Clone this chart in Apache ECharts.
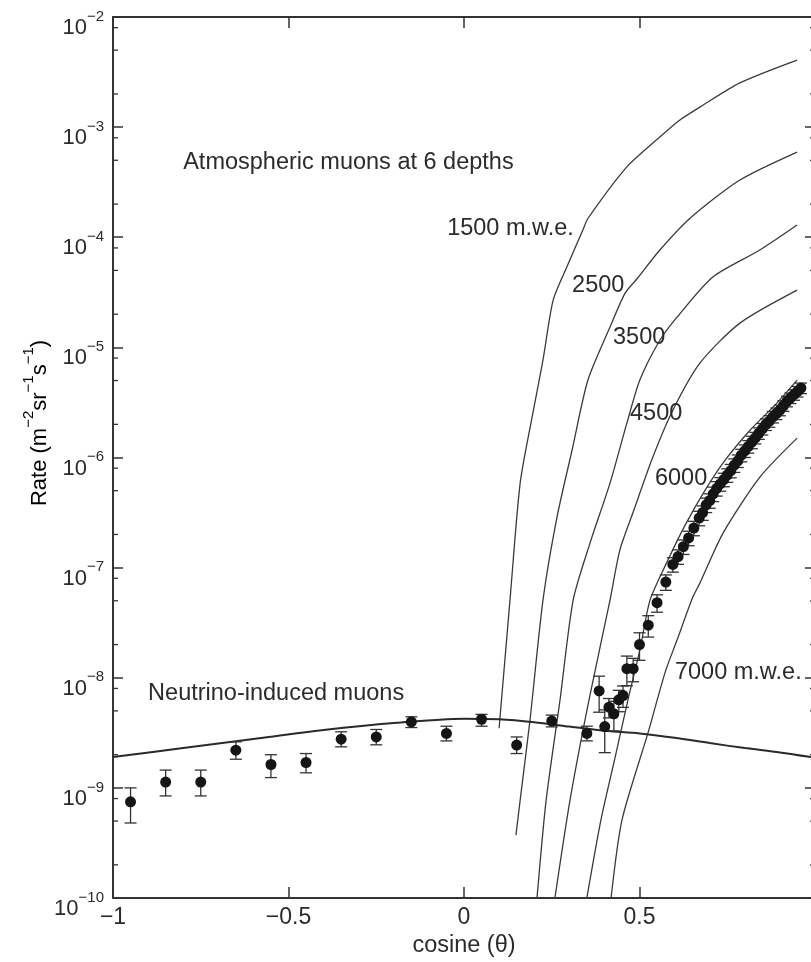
<!DOCTYPE html>
<html><head><meta charset="utf-8">
<script src="https://cdn.jsdelivr.net/npm/echarts/dist/echarts.min.js"></script>
<style>html,body{margin:0;padding:0;background:#fff}#c{width:811px;height:962px}</style>
</head><body><div id="c"></div>
<script>
// ---------- DATA ----------
const xTickLabels = {'-1':'\u22121','-0.5':'\u22120.5','0':'0','0.5':'0.5','1':''};
const yDecades = [-10,-9,-8,-7,-6,-5,-4,-3,-2];
const minorMantissas = [2,5,8];

// Neutrino-induced muons: model curve
const nuCurveCos  = [-1, -0.8, -0.6, -0.4, -0.2, 0, 0.1, 0.2, 0.3, 0.4, 0.5, 0.6, 0.7, 0.8, 0.9, 1.0];
const nuCurveRate = [1.91e-9, 2.3e-9, 2.78e-9, 3.35e-9, 3.88e-9, 4.25e-9, 4.2e-9, 3.95e-9, 3.6e-9, 3.3e-9, 3.12e-9, 2.85e-9, 2.55e-9, 2.3e-9, 2.1e-9, 1.88e-9];

// Neutrino-induced muons: data points
const nuCos  = [-0.95, -0.85, -0.75, -0.65, -0.55, -0.45, -0.35, -0.25, -0.15, -0.05, 0.05, 0.15, 0.25, 0.35];
const nuRate = [7.47e-10, 1.13e-9, 1.13e-9, 2.2e-9, 1.63e-9, 1.7e-9, 2.77e-9, 2.9e-9, 3.98e-9, 3.12e-9, 4.2e-9, 2.45e-9, 4.04e-9, 3.12e-9];
const nuLo   = [4.8e-10, 8.45e-10, 8.45e-10, 1.82e-9, 1.24e-9, 1.37e-9, 2.36e-9, 2.46e-9, 3.53e-9, 2.67e-9, 3.63e-9, 2.05e-9, 3.58e-9, 2.67e-9];
const nuHi   = [1.0e-9, 1.45e-9, 1.45e-9, 2.62e-9, 2.0e-9, 2.05e-9, 3.23e-9, 3.39e-9, 4.42e-9, 3.63e-9, 4.65e-9, 2.9e-9, 4.58e-9, 3.63e-9];

// Atmospheric muon data
const muCos  = [0.385, 0.401, 0.413, 0.427, 0.441, 0.453, 0.464, 0.482, 0.50, 0.525, 0.55, 0.575, 0.595, 0.61, 0.625, 0.64, 0.655, 0.67, 0.68, 0.69, 0.70, 0.71, 0.72, 0.73, 0.74, 0.75, 0.76, 0.77, 0.78, 0.79, 0.80, 0.81, 0.82, 0.83, 0.84, 0.85, 0.86, 0.87, 0.88, 0.89, 0.90, 0.91, 0.92, 0.93, 0.94, 0.95, 0.96];
const muRate = [7.6e-9, 3.6e-9, 5.4e-9, 4.7e-9, 6.3e-9, 6.9e-9, 1.21e-8, 1.21e-8, 2.0e-8, 3.0e-8, 4.8e-8, 7.4e-8, 1.07e-7, 1.26e-7, 1.55e-7, 1.86e-7, 2.29e-7, 2.82e-7, 3.16e-7, 3.72e-7, 4.07e-7, 4.68e-7, 5.25e-7, 5.75e-7, 6.31e-7, 6.92e-7, 7.59e-7, 8.51e-7, 9.33e-7, 1.05e-6, 1.15e-6, 1.26e-6, 1.38e-6, 1.51e-6, 1.66e-6, 1.82e-6, 2.0e-6, 2.14e-6, 2.34e-6, 2.51e-6, 2.69e-6, 2.95e-6, 3.24e-6, 3.47e-6, 3.72e-6, 3.98e-6, 4.27e-6];
const muErr  = [0.36, 0.42, 0.2, 0.3, 0.22, 0.22, 0.3, 0.24, 0.28, 0.22, 0.18, 0.16, 0.15, 0.15, 0.15, 0.15, 0.15, 0.15, 0.15, 0.15, 0.15, 0.15, 0.15, 0.14, 0.14, 0.14, 0.14, 0.14, 0.13, 0.13, 0.13, 0.13, 0.13, 0.12, 0.12, 0.12, 0.12, 0.12, 0.12, 0.12, 0.11, 0.11, 0.11, 0.11, 0.11, 0.11, 0.11];

// Atmospheric muon depth curves
const d1500Cos  = [0.100, 0.131, 0.160, 0.194, 0.225, 0.254, 0.293, 0.339, 0.353, 0.464, 0.558, 0.615, 0.672, 0.786, 0.949];
const d1500Rate = [3.48e-9, 5.07e-8, 5.85e-7, 2.33e-6, 7.67e-6, 2.69e-5, 5.37e-5, 1.17e-4, 1.48e-4, 4.35e-4, 8.13e-4, 1.16e-3, 1.52e-3, 2.52e-3, 4.06e-3];
const d2500Cos  = [0.148, 0.160, 0.188, 0.225, 0.265, 0.308, 0.353, 0.416, 0.459, 0.493, 0.558, 0.644, 0.786, 0.949];
const d2500Rate = [3.72e-10, 7.73e-10, 4.12e-9, 5.07e-8, 2.88e-7, 1.17e-6, 5.05e-6, 1.53e-5, 3.11e-5, 4.2e-5, 7.66e-5, 1.49e-4, 3.31e-4, 5.94e-4];
const d3500Cos  = [0.208, 0.234, 0.2735, 0.311, 0.359, 0.416, 0.464, 0.501, 0.558, 0.607, 0.709, 0.843, 0.949];
const d3500Rate = [1e-10, 7.73e-10, 6.27e-9, 5.07e-8, 1.67e-7, 5.85e-7, 2.05e-6, 5.05e-6, 1.16e-5, 1.88e-5, 4.36e-5, 7.66e-5, 1.29e-4];
const d4500Cos  = [0.259, 0.302, 0.356, 0.416, 0.444, 0.481, 0.538, 0.595, 0.672, 0.786, 0.949];
const d4500Rate = [1e-10, 7.73e-10, 6.27e-9, 5.07e-8, 1.44e-7, 3.13e-7, 1.01e-6, 2.69e-6, 7.19e-6, 1.66e-5, 3.31e-5];
const d6000Cos  = [0.350, 0.390, 0.430, 0.467, 0.501, 0.530, 0.581, 0.630, 0.687, 0.744, 0.815, 0.886, 0.949];
const d6000Rate = [1e-10, 5.09e-10, 1.86e-9, 6.27e-9, 1.78e-8, 5.07e-8, 1.17e-7, 2.43e-7, 5.06e-7, 9.46e-7, 1.77e-6, 2.99e-6, 5.05e-6];
const d7000Cos  = [0.419, 0.450, 0.524, 0.573, 0.607, 0.652, 0.672, 0.738, 0.843, 0.949];
const d7000Rate = [1e-10, 5.09e-10, 3.14e-9, 1.12e-8, 2.2e-8, 5.4e-8, 7.23e-8, 2.06e-7, 6.64e-7, 1.5e-6];

// Annotations (text, cos, rate)
const annText = ['Atmospheric muons at 6 depths', '1500 m.w.e.', '2500', '3500', '4500', '6000', '7000 m.w.e.', 'Neutrino-induced muons'];
const annCos  = [-0.80, -0.048, 0.308, 0.4245, 0.473, 0.544, 0.601, -0.900];
const annRate = [4.82e-4, 1.19e-4, 3.68e-5, 1.24e-5, 2.53e-6, 6.5e-7, 1.12e-8, 7.24e-9];

// ---------- CHART ----------
const INK = '#2b2b2b';
const FONT = '"Liberation Sans", Arial, Helvetica, sans-serif';
const zip = (a, b) => a.map((v, i) => [v, b[i]]);

const minorTicks = [];
for (let i = 0; i < yDecades.length - 1; i++) minorMantissas.forEach(m => minorTicks.push([-1, m * Math.pow(10, yDecades[i])]));

const errData = nuCos.map((c, i) => [c, nuRate[i], nuLo[i], nuHi[i]])
  .concat(muCos.map((c, i) => [c, muRate[i], muRate[i] * (1 - muErr[i]), muRate[i] * (1 + muErr[i])]));
const ptData = zip(nuCos, nuRate).concat(zip(muCos, muRate));

const curve = (cs, rs) => ({
  type: 'line', data: zip(cs, rs), showSymbol: false, smooth: 0.25, silent: true,
  lineStyle: { color: '#3a3a3a', width: 1.3 }, z: 2
});

const supRich = {
  b: { fontSize: 22, lineHeight: 30, verticalAlign: 'bottom', color: INK, fontFamily: FONT },
  s: { fontSize: 15, lineHeight: 15, verticalAlign: 'top', color: INK, fontFamily: FONT }
};

const yBase = {
  type: 'log', logBase: 10, min: 1e-10, max: 1e-2, splitNumber: 8,
  splitLine: { show: false }, minorTick: { show: false },
  axisLine: { show: true, onZero: false, lineStyle: { color: '#333', width: 2 } },
  axisTick: { show: true, inside: true, length: 10, lineStyle: { color: '#333', width: 1.5 } }
};
const xBase = {
  type: 'value', min: -1, max: 1, interval: 0.5,
  splitLine: { show: false },
  axisLine: { show: true, onZero: false, lineStyle: { color: '#333', width: 2 } },
  axisTick: { show: true, inside: true, length: 11, lineStyle: { color: '#333', width: 1.5 } }
};

const chart = echarts.init(document.getElementById('c'), null, { renderer: 'canvas' });
chart.setOption({
  animation: false,
  backgroundColor: '#fff',
  grid: { left: 113, right: -4, top: 17, bottom: 64, containLabel: false, outerBoundsMode: 'none' },
  xAxis: [
    Object.assign({}, xBase, {
      position: 'bottom',
      axisLabel: { margin: 8, fontSize: 23, color: INK, fontFamily: FONT, formatter: v => xTickLabels[String(v)] ?? '' },
      name: 'cosine (\u03b8)', nameLocation: 'middle', nameGap: 36,
      nameTextStyle: { fontSize: 23.5, color: INK, fontFamily: FONT }
    }),
    Object.assign({}, xBase, { position: 'top', axisLabel: { show: false } })
  ],
  yAxis: [
    Object.assign({}, yBase, {
      position: 'left',
      axisLabel: {
        margin: 9, padding: [14, 0, 0, 0],
        formatter: v => '{b|10}{s|\u2212' + Math.round(-Math.log10(v)) + '}',
        rich: supRich
      }
    }),
    Object.assign({}, yBase, { position: 'right', axisLabel: { show: false } })
  ],
  graphic: [{
    type: 'text', x: 36, y: 423, rotation: Math.PI / 2,
    style: {
      text: '{b|Rate (m}{s|\u22122}{b|sr}{s|\u22121}{b|s}{s|\u22121}{b|)}',
      rich: supRich, align: 'center', verticalAlign: 'middle'
    }
  }],
  series: [
    curve(d1500Cos, d1500Rate),
    curve(d2500Cos, d2500Rate),
    curve(d3500Cos, d3500Rate),
    curve(d4500Cos, d4500Rate),
    curve(d6000Cos, d6000Rate),
    curve(d7000Cos, d7000Rate),
    {
      type: 'line', data: zip(nuCurveCos, nuCurveRate), showSymbol: false, smooth: 0.3, silent: true,
      lineStyle: { color: '#2a2a2a', width: 2 }, z: 3
    },
    {
      type: 'custom', data: errData, encode: { x: 0, y: 1 }, silent: true, z: 4,
      renderItem: (params, api) => {
        const x = api.value(0), lo = api.value(2), hi = api.value(3);
        const a = api.coord([x, hi]), b = api.coord([x, lo]);
        const w = 6, st = { stroke: '#333', lineWidth: 1.3 };
        return { type: 'group', children: [
          { type: 'line', shape: { x1: a[0], y1: a[1], x2: b[0], y2: b[1] }, style: st },
          { type: 'line', shape: { x1: a[0] - w, y1: a[1], x2: a[0] + w, y2: a[1] }, style: st },
          { type: 'line', shape: { x1: b[0] - w, y1: b[1], x2: b[0] + w, y2: b[1] }, style: st }
        ] };
      }
    },
    {
      type: 'scatter', data: ptData, symbol: 'circle', symbolSize: 11, silent: true, z: 5,
      itemStyle: { color: '#151515', opacity: 1 }
    },
    {
      type: 'custom', data: minorTicks, encode: { x: 0, y: 1 }, silent: true, clip: false, z: 6,
      renderItem: (params, api) => {
        const v = api.value(1);
        const p = api.coord([-1, v]), q = api.coord([1, v]);
        const st = { stroke: '#333', lineWidth: 1.3 };
        return { type: 'group', children: [
          { type: 'line', shape: { x1: p[0], y1: p[1], x2: p[0] + 5, y2: p[1] }, style: st },
          { type: 'line', shape: { x1: q[0] - 5, y1: q[1], x2: q[0], y2: q[1] }, style: st }
        ] };
      }
    },
    {
      type: 'scatter', silent: true, z: 7, symbolSize: 0, itemStyle: { color: 'rgba(0,0,0,0)' },
      data: annText.map((t, i) => ({ name: t, value: [annCos[i], annRate[i]] })),
      label: { show: true, position: 'right', distance: 0, formatter: '{b}', fontSize: 23.5, color: INK, fontFamily: FONT, opacity: 1 }
    }
  ]
});
</script></body></html>
